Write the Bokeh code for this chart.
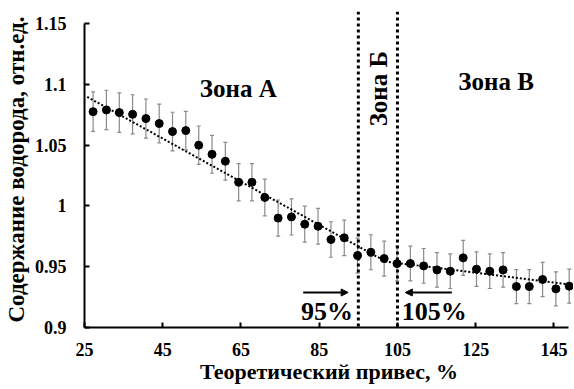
import numpy as np
from bokeh.plotting import figure
from bokeh.models import (ColumnDataSource, Whisker, TeeHead, Span, Arrow, NormalHead,
                          Label, FixedTicker, NumeralTickFormatter, Range1d)
from bokeh.embed import file_html
from bokeh.resources import INLINE

# ---- data ----
weight = [27.2, 30.6, 33.9, 37.3, 40.7, 44.1, 47.5, 50.9, 54.2, 57.6, 61.0, 64.4, 67.8,
          71.1, 74.5, 77.9, 81.3, 84.7, 88.0, 91.4, 94.8, 98.2, 101.6, 104.9, 108.3,
          111.7, 115.1, 118.5, 121.8, 125.2, 128.6, 132.0, 135.4, 138.7, 142.1, 145.5, 148.9]
hydrogen = [1.0776, 1.079, 1.0768, 1.0754, 1.0719, 1.0678, 1.0612, 1.062, 1.050, 1.0425,
            1.0368, 1.0195, 1.0195, 1.007, 0.990, 0.991, 0.985, 0.9833, 0.9724, 0.9738,
            0.9592, 0.9619, 0.9567, 0.9526, 0.9526, 0.9507, 0.9474, 0.9463, 0.9573, 0.948,
            0.9463, 0.9474, 0.9337, 0.9337, 0.9395, 0.9318, 0.934]
err = [0.0162, 0.0162, 0.0162, 0.0161, 0.0161, 0.016, 0.0159, 0.0159, 0.0158, 0.0156,
       0.0156, 0.0153, 0.0153, 0.0151, 0.0149, 0.0149, 0.0148, 0.0147, 0.0146, 0.0146,
       0.0144, 0.0144, 0.0144, 0.0143, 0.0143, 0.0143, 0.0142, 0.0142, 0.0144, 0.0142,
       0.0142, 0.0142, 0.014, 0.014, 0.0141, 0.014, 0.014]
# dotted trend line (two linear pieces)
trend_x = [25.7, 102.0, 148.9]
trend_y = [1.0897, 0.9543, 0.9354]
zone_bounds = [95, 105]
x_ticks = [25, 45, 65, 85, 105, 125, 145]
y_ticks = [0.9, 0.95, 1.0, 1.05, 1.1, 1.15]
x_title = "Теоретический привес, %"
y_title = "Содержание водорода, отн.ед."

FONT = "'Liberation Serif', 'Times New Roman', serif"

src = ColumnDataSource(dict(
    x=weight, y=hydrogen,
    upper=[h + e for h, e in zip(hydrogen, err)],
    lower=[h - e for h, e in zip(hydrogen, err)],
))

p = figure(width=573, height=388, output_backend="svg", toolbar_location=None,
           x_range=Range1d(25, 150), y_range=Range1d(0.9, 1.16),
           min_border_left=83, min_border_right=0, min_border_top=11, min_border_bottom=61)
p.outline_line_color = None
p.xgrid.visible = False
p.ygrid.visible = False
p.background_fill_color = "white"
p.border_fill_color = "white"

wh = Whisker(source=src, base="x", upper="upper", lower="lower",
             line_color="#8a8a8a", line_width=1.2, level="underlay",
             upper_head=TeeHead(size=4, line_color="#8a8a8a", line_width=1.2),
             lower_head=TeeHead(size=4, line_color="#8a8a8a", line_width=1.2))
p.add_layout(wh)

p.line(trend_x, trend_y, line_color="black", line_width=2, line_dash="2 2")

p.scatter("x", "y", source=src, size=8, marker="circle", fill_color="black", line_color="black")

for b in zone_bounds:
    p.add_layout(Span(location=b, dimension="height", line_color="black",
                      line_width=3, line_dash="3 3"))

p.add_layout(Arrow(x_start=80.9, y_start=0.9288, x_end=92.4, y_end=0.9288, line_width=2,
                   end=NormalHead(size=7, fill_color="black", line_color="black")))
p.add_layout(Arrow(x_start=118.9, y_start=0.9288, x_end=107.0, y_end=0.9288, line_width=2,
                   end=NormalHead(size=7, fill_color="black", line_color="black")))

def lab(x, y, t, size, angle=0):
    p.add_layout(Label(x=x, y=y, text=t, text_font=FONT, text_font_style="bold",
                       text_font_size=size, text_align="center", text_baseline="middle",
                       angle=angle, text_color="black"))

lab(64.3, 1.0965, "Зона А", "25px")
lab(130.2, 1.1023, "Зона В", "25px")
lab(100.1, 1.0965, "Зона Б", "25px", angle=np.pi / 2)
lab(87.0, 0.9132, "95%", "26px")
lab(114.4, 0.9132, "105%", "26px")

for ax in (p.xaxis[0], p.yaxis[0]):
    ax.axis_line_width = 2
    ax.axis_line_color = "black"
    ax.major_tick_in = 5
    ax.major_tick_out = 0
    ax.minor_tick_in = 0
    ax.minor_tick_out = 0
    ax.major_tick_line_width = 2
    ax.major_tick_line_color = "black"
    ax.major_label_text_font = FONT
    ax.major_label_text_font_style = "bold"
    ax.major_label_text_font_size = "18px"
    ax.major_label_text_color = "black"
    ax.axis_label_text_font = FONT
    ax.axis_label_text_font_style = "bold"
    ax.axis_label_text_color = "black"

p.xaxis.axis_label_text_font_size = "22px"
p.yaxis.axis_label_text_font_size = "23px"
p.xaxis.ticker = FixedTicker(ticks=x_ticks)
p.yaxis.ticker = FixedTicker(ticks=y_ticks)
p.yaxis.formatter = NumeralTickFormatter(format="0.[00]")
p.xaxis.bounds = (25, 148.8)
p.yaxis.bounds = (0.9, 1.15)
p.xaxis.axis_label = x_title
p.yaxis.axis_label = y_title
p.xaxis.major_label_standoff = 15
p.xaxis.axis_label_standoff = 0
p.yaxis.major_label_standoff = 18
p.yaxis.axis_label_standoff = 3

open("out.html", "w").write(file_html(p, INLINE))
